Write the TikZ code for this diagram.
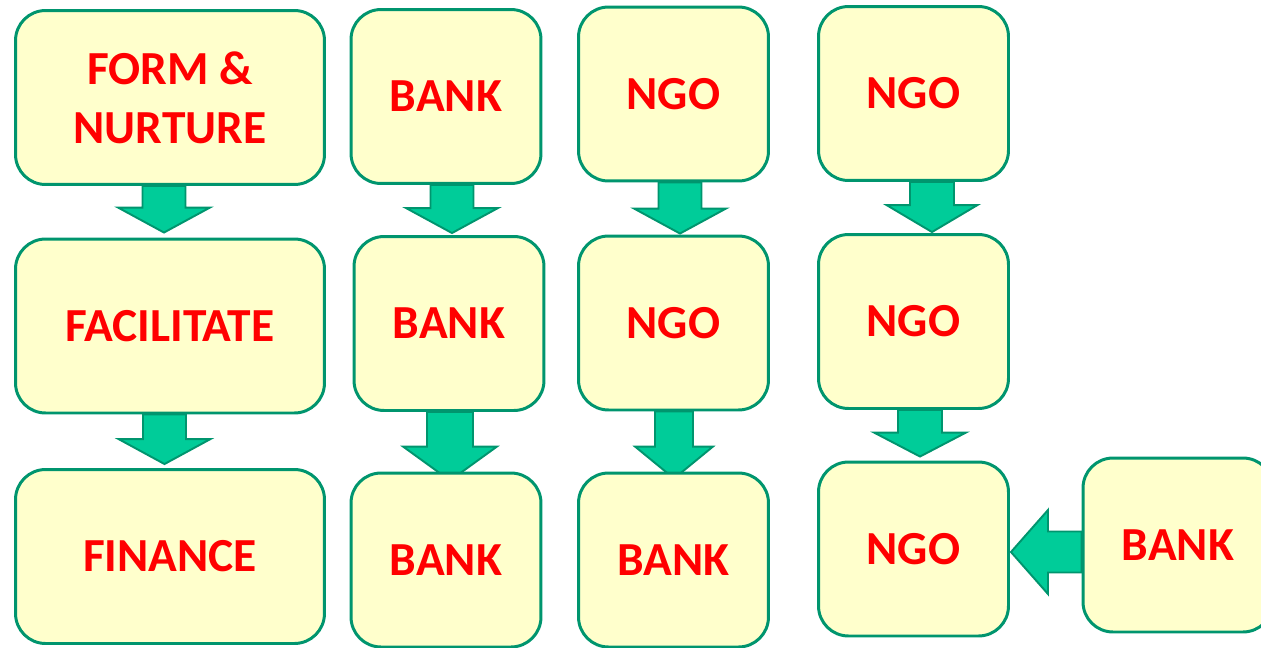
\documentclass[tikz,border=0pt]{standalone}
\usepackage{fontspec}
\setmainfont{Carlito}
\usetikzlibrary{calc}
\pgfdeclarelayer{bg}
\pgfsetlayers{bg,main}
\definecolor{boxyellow}{HTML}{FFFFCC}
\definecolor{edgegreen}{HTML}{00956E}
\definecolor{arrowgreen}{HTML}{00CC99}
\tikzset{halfshaft/.store in=\halfshaft,halfhead/.store in=\halfhead,
  headlen/.store in=\headlen,nudge/.store in=\flownudge,gap/.store in=\flowgap,
  halfshaft=0.43cm,halfhead=0.92cm,headlen=0.5cm,nudge=0cm,gap=0cm}
\tikzstyle{box}=[rectangle,rounded corners=0.6cm,draw=edgegreen,fill=boxyellow,
  line width=1.7pt,text=red,font=\bfseries\fontsize{27}{33.5}\selectfont,
  align=center,inner sep=0pt,minimum width=3.8cm,minimum height=3.48cm]
\tikzstyle{wide}=[minimum width=6.18cm]
\tikzstyle{flow}=[draw=edgegreen,fill=arrowgreen,line width=1.1pt,line join=miter,
  to path={let \p1=(\tikztostart),\p2=(\tikztotarget),
    \p3=(\x1+\flownudge,\y2+\flowgap) in
    (\x3-\halfshaft,\y1) -- (\x3-\halfshaft,\y3+\headlen) -- (\x3-\halfhead,\y3+\headlen)
    -- (\x3,\y3) -- (\x3+\halfhead,\y3+\headlen) -- (\x3+\halfshaft,\y3+\headlen)
    -- (\x3+\halfshaft,\y1) -- cycle}]
\tikzstyle{feed}=[draw=edgegreen,fill=arrowgreen,line width=1.1pt,line join=miter,
  to path={let \p1=(\tikztostart),\p2=(\tikztotarget),
    \p3=(\x2+\flowgap,\y2+\flownudge) in
    (\x1,\y3-\halfshaft) -- (\x3+\headlen,\y3-\halfshaft) -- (\x3+\headlen,\y3-\halfhead)
    -- (\x3,\y3) -- (\x3+\headlen,\y3+\halfhead) -- (\x3+\headlen,\y3+\halfshaft)
    -- (\x1,\y3+\halfshaft) -- cycle}]

\begin{document}
\begin{tikzpicture}[x=0.02cm,y=0.02cm]
\useasboundingbox (0,0) rectangle (1261,-647);
\clip (0,0) rectangle (1261,-647);

\node (form) at (170,-97.5) [box,wide] {FORM \&\\NURTURE};
\node (fac) at (170,-326) [box,wide] {FACILITATE};
\node (fin) at (170,-556.5) [box,wide] {FINANCE};

\node (bankA) at (446,-96.5) [box] {BANK};
\node (bankB) at (449,-323.5) [box] {BANK};
\node (bankC) at (446,-560) [box] {BANK};

\node (ngoA) at (673.5,-94) [box] {NGO};
\node (ngoB) at (673.5,-323) [box] {NGO};
\node (bankD) at (673.5,-560) [box] {BANK};

\node (ngoC) at (913.5,-93.5) [box] {NGO};
\node (ngoD) at (913.5,-321.5) [box] {NGO};
\node (ngoE) at (913.5,-549) [box] {NGO};
\node (bankE) at (1178,-545) [box] {BANK};

\begin{pgfonlayer}{bg}
\draw [flow,nudge=-0.12cm,gap=0.1cm] (form.south) to (fac.north);
\draw [flow,nudge=-0.11cm,gap=0.08cm] (fac.south) to (fin.north);

\draw [flow,nudge=0.12cm,gap=0.04cm] (bankA.south) to (bankB.north);
\draw [flow,nudge=0.02cm,gap=-0.18cm,halfshaft=0.46cm,halfhead=0.94cm,headlen=0.68cm] (bankB.south) to (bankC.north);

\draw [flow,nudge=0.13cm,gap=0.02cm] (ngoA.south) to (ngoB.north);
\draw [flow,nudge=0.01cm,gap=-0.14cm,halfshaft=0.38cm,halfhead=0.78cm,headlen=0.64cm] (ngoB.south) to (bankD.north);

\draw [flow,nudge=0.37cm,gap=0.02cm,halfshaft=0.44cm,halfhead=0.91cm,headlen=0.54cm] (ngoC.south) to (ngoD.north);
\draw [flow,nudge=0.13cm,gap=0.08cm,halfshaft=0.44cm,headlen=0.48cm] (ngoD.south) to (ngoE.north);

\draw [feed,nudge=-0.06cm,gap=0.02cm,halfshaft=0.41cm,halfhead=0.84cm,headlen=0.74cm] (bankE.west) to (ngoE.east);
\end{pgfonlayer}
\end{tikzpicture}
\end{document}
